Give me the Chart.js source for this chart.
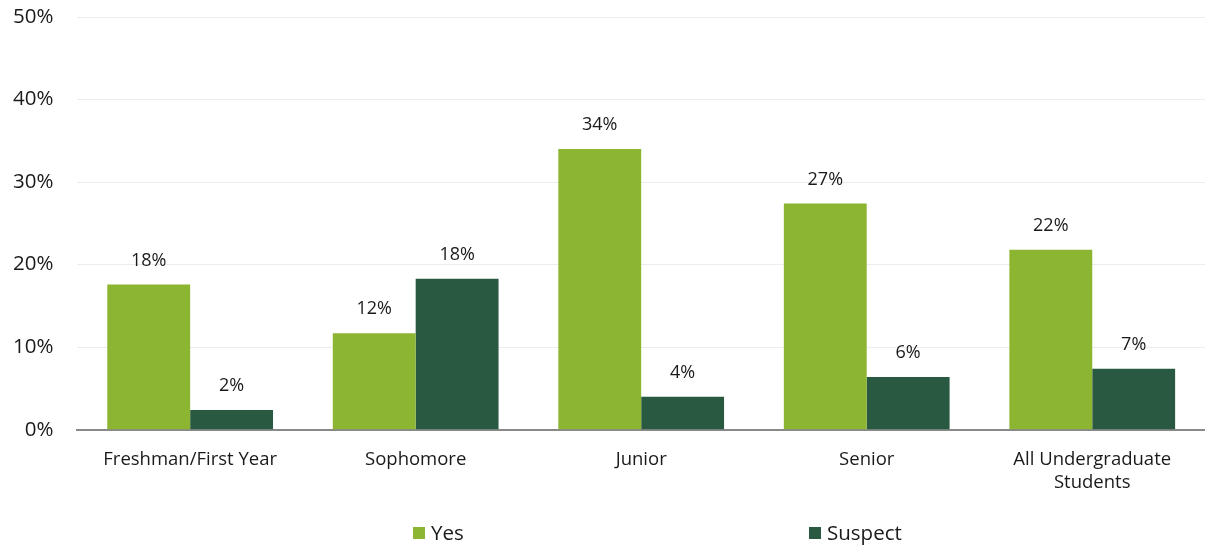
<!DOCTYPE html>
<html>
<head>
<meta charset="utf-8">
<script src="https://cdn.jsdelivr.net/npm/chart.js@4.4.1/dist/chart.umd.min.js"></script>
<style>
  body { margin: 0; background: #fff; }
  #wrap { width: 1205px; height: 546px; position: relative; }
</style>
</head>
<body>
<div id="wrap"><canvas id="grafica"></canvas></div>
<script>
// categorias y valores (porcentaje)
var categories = ["Freshman/First Year", "Sophomore", "Junior", "Senior", ["All Undergraduate", "Students"]];
var yesValues = [17.6, 11.7, 34.0, 27.4, 21.8];
var suspectValues = [2.4, 18.3, 4.0, 6.4, 7.4];
var seriesNames = ["Yes", "Suspect"];
var seriesColors = ["#8CB531", "#2A5942"];
var yTicks = [0, 10, 20, 30, 40, 50];

var fontName = "'Open Sans', 'Noto Sans', sans-serif";

// etiquetas encima de las barras
var barLabels = {
    id: "barLabels",
    afterDatasetsDraw: function (chart) {
        var ctx = chart.ctx;
        ctx.save();
        ctx.font = "18px " + fontName;
        ctx.fillStyle = "#1a1a1a";
        ctx.textAlign = "center";
        ctx.textBaseline = "middle";
        chart.data.datasets.forEach(function (ds, i) {
            chart.getDatasetMeta(i).data.forEach(function (bar, j) {
                ctx.fillText(Math.round(ds.data[j]) + "%", bar.x, bar.y - 24);
            });
        });
        ctx.restore();
    }
};

// leyenda propia, abajo
var bottomLegend = {
    id: "bottomLegend",
    afterDraw: function (chart) {
        var ctx = chart.ctx;
        var xs = [413, 809];
        var y = 533;
        ctx.save();
        ctx.font = "20.5px " + fontName;
        ctx.textBaseline = "middle";
        ctx.textAlign = "left";
        seriesNames.forEach(function (name, i) {
            ctx.fillStyle = seriesColors[i];
            ctx.fillRect(xs[i], y - 6, 12, 12);
            ctx.fillStyle = "#1a1a1a";
            ctx.fillText(name, xs[i] + 18, y + 1);
        });
        ctx.restore();
    }
};

var ctx = document.getElementById("grafica").getContext("2d");
var chart = new Chart(ctx, {
    type: "bar",
    data: {
        labels: categories,
        datasets: [
            {
                label: seriesNames[0],
                backgroundColor: seriesColors[0],
                data: yesValues,
                categoryPercentage: 0.735,
                barPercentage: 1.0
            },
            {
                label: seriesNames[1],
                backgroundColor: seriesColors[1],
                data: suspectValues,
                categoryPercentage: 0.735,
                barPercentage: 1.0
            }
        ]
    },
    options: {
        responsive: true,
        maintainAspectRatio: false,
        animation: false,
        layout: { padding: { left: -11, right: 0, top: 0, bottom: 34 } },
        plugins: {
            legend: { display: false },
            tooltip: { enabled: false }
        },
        scales: {
            x: {
                grid: { display: false, drawTicks: false },
                border: { display: true, color: "#898989", width: 2 },
                ticks: {
                    color: "#1a1a1a",
                    font: { size: 18.5, family: fontName, lineHeight: 1.25 },
                    padding: 18,
                    maxRotation: 0,
                    autoSkip: false
                }
            },
            y: {
                min: 0,
                max: 50,
                afterBuildTicks: function (axis) {
                    axis.ticks = yTicks.map(function (v) { return { value: v }; });
                },
                // el padding de los ticks no debe empujar el area hacia abajo
                afterFit: function (axis) {
                    axis.paddingTop = 17;
                    axis.paddingBottom = 0;
                },
                grid: { color: "#ececec", lineWidth: 1, drawTicks: false },
                border: { display: false },
                ticks: {
                    color: "#1a1a1a",
                    font: { size: 20.5, family: fontName },
                    padding: 24,
                    callback: function (v) { return v + "%"; }
                }
            }
        }
    },
    plugins: [barLabels, bottomLegend]
});
</script>
</body>
</html>
